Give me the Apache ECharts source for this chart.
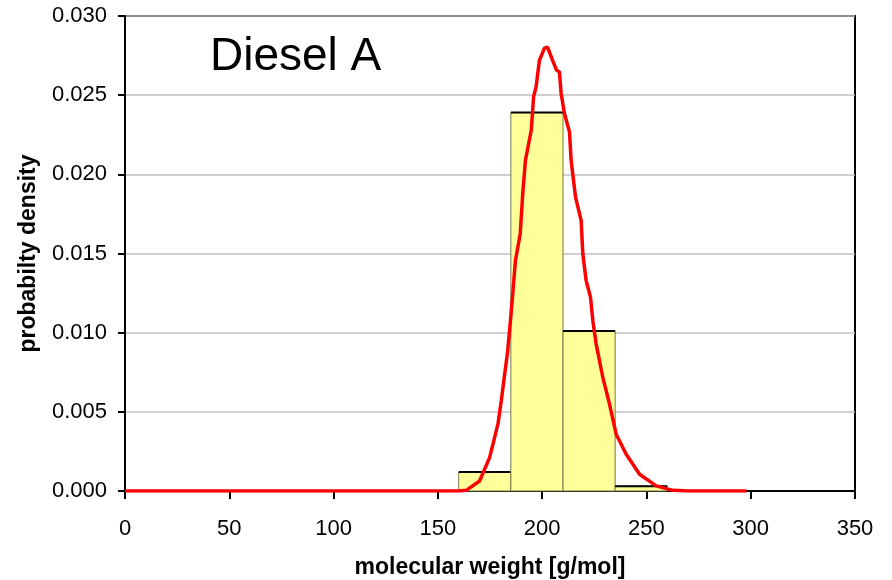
<!DOCTYPE html>
<html>
<head>
<meta charset="UTF-8">
<title>Diesel A</title>
<script src="https://cdn.jsdelivr.net/npm/echarts@6/dist/echarts.min.js"></script>
<style>
  html, body { margin: 0; padding: 0; background: #fff; }
  #view { width: 892px; height: 580px; }
</style>
</head>
<body>
<div id="view"></div>
<script type="text/javascript">
    // histogram bins (edges) and their density
    var binEdges = [160, 185, 210, 235, 260];
    var binDensity = [0.0012, 0.0239, 0.0101, 0.0003];

    // fitted distribution curve
    var curveX = [0, 50, 100, 150, 160, 163.6, 170, 174.8, 178.8, 180.4, 183.5, 184.8, 185.9, 187.2, 189.5,
        190.7, 192.0, 192.6, 194.8, 195.9, 197.1, 198.7, 201.1, 202.6, 205.0, 206.9, 208.3, 209.1,
        210.7, 213.1, 213.9, 216.0, 218.7, 219.5, 221.1, 223.2, 224.3, 225.9, 229.1, 232.3, 235.5,
        240.3, 246.7, 254.7, 262.6, 270, 280, 298];
    var curveY = [0, 0, 0, 0, 0, 0.00004, 0.00063, 0.00211, 0.00422, 0.0057, 0.00886, 0.01076, 0.01245, 0.01456, 0.01625,
        0.01878, 0.02089, 0.0213, 0.0228, 0.0249, 0.02553, 0.0272, 0.02797, 0.02804, 0.0272, 0.02658, 0.02646, 0.02511,
        0.02384, 0.02268, 0.02089, 0.01856, 0.01709, 0.01498, 0.01329, 0.01223, 0.01076, 0.00928, 0.00717, 0.00549, 0.00359,
        0.00232, 0.00106, 0.00032, 0.00004, 0, 0, 0];

    var xTicks = [0, 50, 100, 150, 200, 250, 300, 350];

    var binData = [];
    for (var i = 0; i < binDensity.length; i++) {
        binData.push([binEdges[i], binEdges[i + 1], binDensity[i]]);
    }
    var curveData = [];
    for (var j = 0; j < curveX.length; j++) {
        curveData.push([curveX[j], curveY[j]]);
    }

    var font = 'Liberation Sans, Arial, sans-serif';
    var myChart = echarts.init(document.getElementById('view'));

    var option = {
        animation: false,
        title: {
            text: 'Diesel A',
            left: 205,
            top: 29,
            textStyle: { fontFamily: font, fontSize: 46, fontWeight: 'normal', color: '#000' }
        },
        grid: {
            left: 125, right: 37, top: 16, bottom: 89,
            outerBoundsMode: 'none',
            show: true, borderColor: '#000', borderWidth: 2
        },
        xAxis: {
            type: 'value',
            min: xTicks[0],
            max: xTicks[xTicks.length - 1],
            interval: 50,
            name: 'molecular weight [g/mol]',
            nameLocation: 'middle',
            nameGap: 65,
            nameTextStyle: { fontFamily: font, fontSize: 23, fontWeight: 'bold', color: '#000' },
            axisLine: { show: true, lineStyle: { color: '#000', width: 2 } },
            axisTick: { show: true, length: 8, lineStyle: { color: '#000', width: 2 } },
            axisLabel: { fontFamily: font, fontSize: 22, color: '#000', margin: 27 },
            splitLine: { show: false }
        },
        yAxis: {
            type: 'value',
            min: 0,
            max: 0.03,
            interval: 0.005,
            name: 'probabilty density',
            nameLocation: 'middle',
            nameGap: 85,
            nameTextStyle: { fontFamily: font, fontSize: 23, fontWeight: 'bold', color: '#000' },
            axisLine: { show: true, lineStyle: { color: '#000', width: 2 } },
            axisTick: { show: true, length: 7, lineStyle: { color: '#000', width: 2 } },
            axisLabel: {
                fontFamily: font, fontSize: 22, color: '#000', margin: 18,
                formatter: function (v) { return v.toFixed(3); }
            },
            splitLine: { show: true, lineStyle: { color: '#c0c0c0', width: 1.5 } }
        },
        series: [
            {
                type: 'custom',
                data: binData,
                encode: { x: [0, 1], y: 2 },
                renderItem: function (params, api) {
                    var p0 = api.coord([api.value(0), 0]);
                    var p1 = api.coord([api.value(1), api.value(2)]);
                    return {
                        type: 'group',
                        children: [
                            {
                                type: 'rect',
                                shape: { x: p0[0], y: p1[1], width: p1[0] - p0[0], height: p0[1] - p1[1] },
                                style: { fill: '#ffff99', stroke: '#77774a', lineWidth: 1 }
                            },
                            {
                                type: 'line',
                                shape: { x1: p0[0], y1: p1[1], x2: p1[0], y2: p1[1] },
                                style: { stroke: '#000', lineWidth: 2 }
                            }
                        ]
                    };
                },
                z: 2
            },
            {
                type: 'line',
                data: curveData,
                showSymbol: false,
                smooth: false,
                lineStyle: { color: '#ff0000', width: 3.5 },
                z: 3
            }
        ]
    };
    myChart.setOption(option);
</script>
</body>
</html>
